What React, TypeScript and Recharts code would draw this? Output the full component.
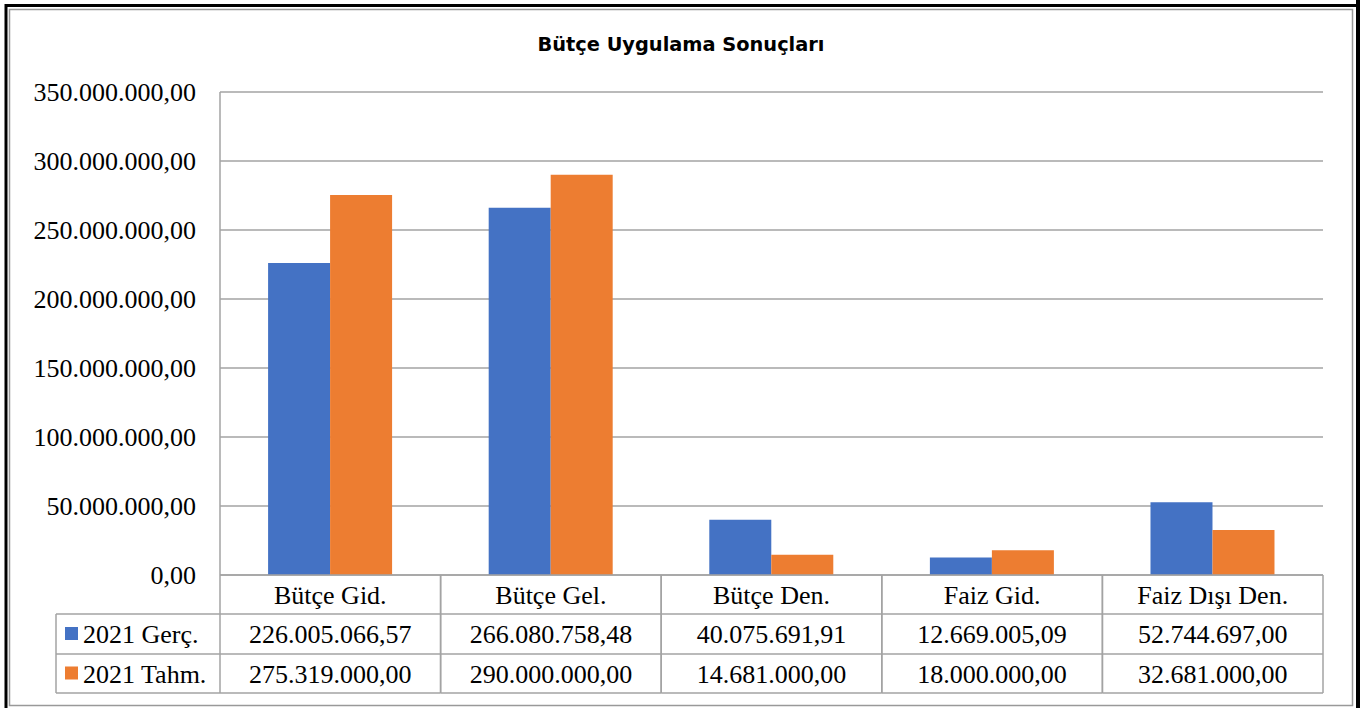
import React from "react";
import { BarChart, Bar, XAxis, YAxis, CartesianGrid } from "recharts";

const categories = ["Bütçe Gid.", "Bütçe Gel.", "Bütçe Den.", "Faiz Gid.", "Faiz Dışı Den."];
const gercek = [226005066.57, 266080758.48, 40075691.91, 12669005.09, 52744697.0];
const tahmin = [275319000.0, 290000000.0, 14681000.0, 18000000.0, 32681000.0];
const seriesNames = ["2021 Gerç.", "2021 Tahm."];
const yTicks = [0, 50000000, 100000000, 150000000, 200000000, 250000000, 300000000, 350000000];

const data = categories.map((name, i) => ({ name, gercek: gercek[i], tahmin: tahmin[i] }));

const W = 1360;
const H = 708;
const PLOT_LEFT = 220;
const PLOT_RIGHT = 1323;
const PLOT_TOP = 92;
const PLOT_BOTTOM = 575;
const ROW1 = 614;
const ROW2 = 654;
const ROW3 = 693;
const TABLE_LEFT = 56;
const BAND = (PLOT_RIGHT - PLOT_LEFT) / categories.length;

const BLUE = "#4472C4";
const ORANGE = "#ED7D31";
const LINE = "#a3a3a3";
const SERIF = "'Liberation Serif', 'Times New Roman', serif";

// Turkish number format: 350.000.000,00
function fmtTR(v: number) {
  const fixed = v.toFixed(2);
  const [int, dec] = fixed.split(".");
  const grouped = int.replace(/\B(?=(\d{3})+(?!\d))/g, ".");
  return `${grouped},${dec}`;
}

// the data table under the plot, one column per category tick
function TableTick(props: any) {
  const { payload, index } = props;
  const cx = payload.coordinate;
  const x0 = cx - BAND / 2;
  const x1 = cx + BAND / 2;
  const txt = { fontFamily: SERIF, fontSize: 26, fill: "#000", textAnchor: "middle" as const };
  return (
    <g>
      <line x1={x0} y1={PLOT_BOTTOM} x2={x0} y2={ROW3} stroke={LINE} strokeWidth={1.5} />
      <line x1={x1} y1={PLOT_BOTTOM} x2={x1} y2={ROW3} stroke={LINE} strokeWidth={1.5} />
      <line x1={x0} y1={ROW1} x2={x1} y2={ROW1} stroke={LINE} strokeWidth={1.5} />
      <line x1={x0} y1={ROW2} x2={x1} y2={ROW2} stroke={LINE} strokeWidth={1.5} />
      <line x1={x0} y1={ROW3} x2={x1} y2={ROW3} stroke={LINE} strokeWidth={1.5} />
      <text x={cx} y={(PLOT_BOTTOM + ROW1) / 2} dy="0.35em" {...txt}>{payload.value}</text>
      <text x={cx} y={(ROW1 + ROW2) / 2} dy="0.35em" {...txt}>{fmtTR(gercek[index])}</text>
      <text x={cx} y={(ROW2 + ROW3) / 2} dy="0.35em" {...txt}>{fmtTR(tahmin[index])}</text>
    </g>
  );
}

export default function App() {
  const colors = [BLUE, ORANGE];
  return (
    <div style={{ position: "absolute", left: 0, top: 0, width: W, height: H, background: "#fff", overflow: "hidden" }}>
      <div style={{ position: "absolute", left: 0, top: 0 }}>
        <BarChart
          width={W}
          height={H}
          data={data}
          margin={{ top: PLOT_TOP, right: W - PLOT_RIGHT, bottom: 0, left: PLOT_LEFT - 200 }}
          barCategoryGap="21.8%"
          barGap={0}
        >
          <CartesianGrid vertical={false} stroke={LINE} strokeWidth={1.5} />
          <XAxis
            dataKey="name"
            axisLine={{ stroke: LINE, strokeWidth: 1.5 }}
            tickLine={false}
            height={H - PLOT_BOTTOM}
            interval={0}
            tick={<TableTick />}
          />
          <YAxis
            width={200}
            domain={[0, 350000000]}
            ticks={yTicks}
            tickFormatter={fmtTR}
            axisLine={{ stroke: LINE, strokeWidth: 1.5 }}
            tickLine={false}
            tickSize={0}
            tickMargin={24}
            tick={{ fontFamily: SERIF, fontSize: 26, fill: "#000" }}
          />
          <Bar dataKey="gercek" fill={BLUE} isAnimationActive={false} />
          <Bar dataKey="tahmin" fill={ORANGE} isAnimationActive={false} />
        </BarChart>
      </div>
      <svg width={W} height={H} style={{ position: "absolute", left: 0, top: 0, pointerEvents: "none" }}>
        <rect x={6} y={5.5} width={W + 10} height={H + 10} fill="none" stroke="#000" strokeWidth={3} />
        <rect x={1356} y={0} width={4} height={H} fill="#000" />
        <rect x={9.5} y={9.5} width={1343} height={696} fill="none" stroke="#999" strokeWidth={1.5} />
        <text
          x={681}
          y={51}
          textAnchor="middle"
          textLength={287}
          lengthAdjust="spacingAndGlyphs"
          style={{ fontFamily: "'DejaVu Sans', sans-serif", fontWeight: 700, fontSize: 19.5, fill: "#000" }}
        >
          Bütçe Uygulama Sonuçları
        </text>
        {/* legend column of the data table */}
        <line x1={TABLE_LEFT} y1={ROW1} x2={PLOT_LEFT} y2={ROW1} stroke={LINE} strokeWidth={1.5} />
        <line x1={TABLE_LEFT} y1={ROW2} x2={PLOT_LEFT} y2={ROW2} stroke={LINE} strokeWidth={1.5} />
        <line x1={TABLE_LEFT} y1={ROW3} x2={PLOT_LEFT} y2={ROW3} stroke={LINE} strokeWidth={1.5} />
        <line x1={TABLE_LEFT} y1={ROW1} x2={TABLE_LEFT} y2={ROW3} stroke={LINE} strokeWidth={1.5} />
        {seriesNames.map((s, i) => {
          const top = i === 0 ? ROW1 : ROW2;
          const bot = i === 0 ? ROW2 : ROW3;
          const cy = (top + bot) / 2;
          return (
            <g key={s}>
              <rect x={65} y={cy - 7} width={13} height={13} fill={colors[i]} />
              <text x={83} y={cy} dy="0.35em" style={{ fontFamily: SERIF, fontSize: 26, fill: "#000" }}>
                {s}
              </text>
            </g>
          );
        })}
      </svg>
    </div>
  );
}
